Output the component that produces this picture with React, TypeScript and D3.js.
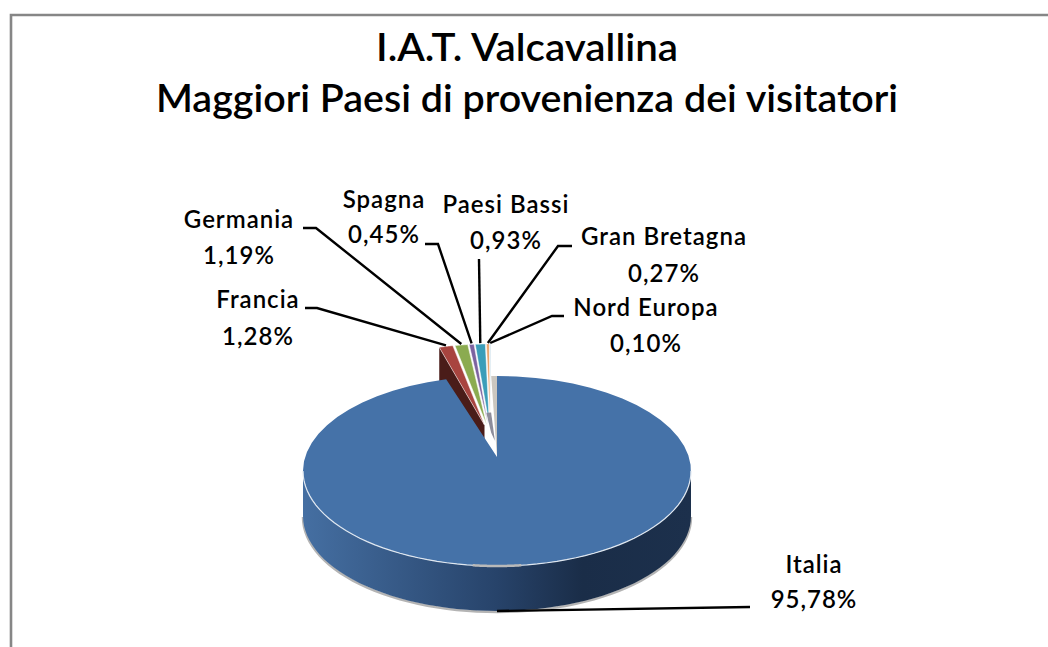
import * as d3 from "d3"

const WIDTH = 1048
const HEIGHT = 647

// values, in drawing order
const countries = ["Italia", "Francia", "Germania", "Spagna", "Paesi Bassi", "Gran Bretagna", "Nord Europa"]
const shares = [95.78, 1.28, 1.19, 0.45, 0.93, 0.27, 0.1]
const shareLabels = ["95,78%", "1,28%", "1,19%", "0,45%", "0,93%", "0,27%", "0,10%"]
const titleLines = ["I.A.T. Valcavallina", "Maggiori Paesi di provenienza dei visitatori"]
const titleWidths = [302, 742]

const colors = ["#4572a8", "#a8443f", "#8bab50", "#7c62a0", "#3b9db9", "#e9a46e", "#b9d3e2"]

// fake 3d: the apex sits above the middle of the ellipse, like excel's perspective
const CX = 497
const ELLIPSE_CY = 471
const APEX_Y = 457
const RX = 194
const RY = 95
const DEPTH = 45
const EXPLODE = 32
// the small slices bunch up a bit towards their left end
const SQUEEZE_FROM = 441
const SQUEEZE = 0.11

// label placement: text centre, two baselines and the leader's elbow points
const labelLayout: Record<string, { x: number; y: number[]; leader: number[][] }> = {
  Italia: { x: 814, y: [573, 608], leader: [[750, 607]] },
  Francia: { x: 258, y: [308, 345], leader: [[305, 308], [317, 308]] },
  Germania: { x: 239, y: [228, 264], leader: [[303, 228], [316, 228]] },
  Spagna: { x: 384, y: [208, 243], leader: [[425, 244], [438, 244]] },
  "Paesi Bassi": { x: 506, y: [213, 249], leader: [[479, 259]] },
  "Gran Bretagna": { x: 664, y: [245, 282], leader: [[572, 246], [558, 246]] },
  "Nord Europa": { x: 646, y: [316, 352], leader: [[564, 316], [552, 316]] },
}

const edge = (a: number): [number, number] => [CX + RX * Math.sin(a), ELLIPSE_CY - RY * Math.cos(a)]
const inner = (a: number, t: number): [number, number] => {
  const [x, y] = edge(a)
  return [CX + (x - CX) * t, APEX_Y + (y - APEX_Y) * t]
}
const toPath = d3.line()
const closed = (pts: [number, number][]) => (toPath(pts) ?? "") + "Z"
const arcPoints = (a0: number, a1: number) =>
  d3.range(0, 61).map((i) => edge(d3.interpolateNumber(a0, a1)(i / 60)))

const slices = d3.pie<number>().sort(null).value((d) => d).startAngle(0).endAngle(2 * Math.PI)(shares)

export default function App() {
  const notchStart = slices[0].endAngle
  const frontArc = arcPoints(Math.PI / 2, (3 * Math.PI) / 2)
  const sideBand = [...frontArc, ...frontArc.slice().reverse().map(([x, y]) => [x, y + DEPTH] as [number, number])]
  const italiaFace: [number, number][] = [[CX, APEX_Y], ...arcPoints(slices[0].startAngle, slices[0].endAngle)]

  const exploded = slices.slice(1).map((s, i) => {
    const mid = (s.startAngle + s.endAngle) / 2
    const dx = EXPLODE * Math.sin(mid)
    const shift = ([x, y]: [number, number]): [number, number] => {
      const nx = x + dx
      return [nx - (nx - SQUEEZE_FROM) * SQUEEZE, y - EXPLODE]
    }
    const tip = shift([CX, APEX_Y])
    const rim = arcPoints(s.startAngle, s.endAngle).map(shift)
    return { key: countries[i + 1], color: colors[i + 1], tip, rim, outer: rim[30] }
  })

  const francia = exploded[0]
  const franciaWall: [number, number][] = [
    francia.tip,
    francia.rim[0],
    [francia.rim[0][0], francia.rim[0][1] + DEPTH],
    [francia.tip[0], francia.tip[1] + DEPTH],
  ]

  const anchors: Record<string, [number, number]> = {}
  const bottom = edge(Math.PI)
  anchors.Italia = [bottom[0], bottom[1] + DEPTH]
  exploded.forEach((e) => (anchors[e.key] = [e.outer[0], e.outer[1] - 1]))

  const font = "Lato, 'Open Sans', sans-serif"

  return (
    <svg
      width={WIDTH}
      height={HEIGHT}
      style={{ position: "absolute", left: 0, top: 0, background: "#fff" }}
      fontFamily={font}
    >
      <defs>
        <linearGradient id="sideFill" gradientUnits="userSpaceOnUse" x1={CX - RX} x2={CX + RX} y1={0} y2={0}>
          <stop offset="0" stopColor="#456fa2" />
          <stop offset="0.5" stopColor="#27436a" />
          <stop offset="0.72" stopColor="#1a2d48" />
          <stop offset="1" stopColor="#1c304c" />
        </linearGradient>
      </defs>

      <path d={`M11,647V15H1048`} fill="none" stroke="#868686" strokeWidth={2.6} />

      {titleLines.map((t, i) => (
        <text
          key={t}
          x={527}
          y={61 + i * 51}
          textAnchor="middle"
          fontSize={38}
          fontWeight={600}
          fill="#000"
          textLength={titleWidths[i]}
          lengthAdjust="spacingAndGlyphs"
        >
          {t}
        </text>
      ))}

      {/* side wall and its soft shadow */}
      <path
        d={toPath(frontArc.map(([x, y]) => [x, y + DEPTH + 1]) as [number, number][]) ?? ""}
        fill="none"
        stroke="#b4b4b4"
        strokeWidth={2.5}
      />
      <path d={closed(sideBand)} fill="url(#sideFill)" />

      {/* exploded small slices, they sit behind the big one */}
      <path d={closed(franciaWall)} fill="#4a1c19" />
      {exploded.map((e) => (
        <path key={e.key} d={closed([e.tip, ...e.rim])} fill={e.color} stroke="#fff" strokeWidth={0.5} />
      ))}

      {/* inner walls of the notch */}
      <path d={closed([[CX, APEX_Y], edge(2 * Math.PI - 0.03), edge(2 * Math.PI)])} fill="#cbc7c0" />
      <path
        d={closed([inner(notchStart + 0.165, 0.3), inner(notchStart + 0.165, 0.55), inner(notchStart + 0.21, 0.55), inner(notchStart + 0.21, 0.2)])}
        fill="#8d8d9b"
      />

      <path d={closed(italiaFace)} fill={colors[0]} />
      <path d={toPath(frontArc) ?? ""} fill="none" stroke="#dfe7f0" strokeWidth={1.2} />
      <path d={toPath(arcPoints(Math.PI * 0.96, Math.PI * 1.04)) ?? ""} fill="none" stroke="#b9b9b9" strokeWidth={2.5} />

      {/* leaders */}
      {countries.map((c) => {
        const layout = labelLayout[c]
        return (
          <path
            key={c}
            d={toPath([...(layout.leader as [number, number][]), anchors[c]]) ?? ""}
            fill="none"
            stroke="#000"
            strokeWidth={2.4}
          />
        )
      })}

      {/* labels */}
      {countries.map((c, i) => {
        const layout = labelLayout[c]
        return (
          <g key={c} textAnchor="middle" fontSize={24} fontWeight={600} fill="#000" letterSpacing={1}>
            <text x={layout.x} y={layout.y[0]}>
              {c}
            </text>
            <text x={layout.x} y={layout.y[1]}>
              {shareLabels[i]}
            </text>
          </g>
        )
      })}
    </svg>
  )
}
